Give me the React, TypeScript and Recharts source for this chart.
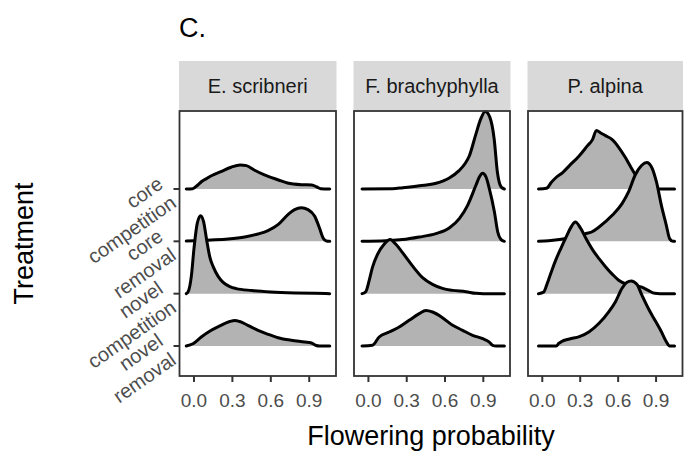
import React from 'react';
import { ComposedChart, Area, XAxis, YAxis } from 'recharts';

type Pt = [number, number];

const FONT = '"Liberation Sans", Arial, Helvetica, sans-serif';

const panelTitle = 'C.';
const xAxisTitle = 'Flowering probability';
const yAxisTitle = 'Treatment';
const speciesNames = ['E. scribneri', 'F. brachyphylla', 'P. alpina'];
const treatmentLabels = [
  ['core', 'competition'],
  ['core', 'removal'],
  ['novel', 'competition'],
  ['novel', 'removal'],
];
const treatmentRows = [4, 3, 2, 1];
const xTicks = [0, 0.3, 0.6, 0.9];

// ---- E. scribneri (scaled density, in ridge-row units) ----
const escCoreCompetition: Pt[] = [
  [-0.06, 0], [-0.01, 0.006], [0.03, 0.076], [0.06, 0.143], [0.1, 0.201], [0.14, 0.258],
  [0.21, 0.331], [0.29, 0.415], [0.36, 0.459], [0.41, 0.446], [0.47, 0.363], [0.55, 0.268],
  [0.66, 0.172], [0.73, 0.115], [0.84, 0.082], [0.92, 0.076], [0.96, 0.038], [0.99, 0.006], [1.06, 0],
];
const escCoreRemoval: Pt[] = [
  [-0.06, 0.004], [0.0, 0.01], [0.135, 0.025], [0.266, 0.044], [0.396, 0.082], [0.5, 0.14],
  [0.578, 0.205], [0.656, 0.319], [0.734, 0.511], [0.786, 0.606], [0.838, 0.641], [0.89, 0.606],
  [0.943, 0.478], [0.98, 0.254], [1.008, 0.063], [1.034, 0.006], [1.06, 0],
];
const escNovelCompetition: Pt[] = [
  [-0.06, 0], [-0.045, 0.038], [-0.02, 0.344], [0.0, 0.86], [0.025, 1.338], [0.052, 1.491],
  [0.075, 1.377], [0.1, 1.013], [0.125, 0.688], [0.15, 0.516], [0.19, 0.325], [0.23, 0.21],
  [0.28, 0.134], [0.33, 0.096], [0.45, 0.061], [0.6, 0.034], [0.79, 0.015], [0.95, 0.006], [1.06, 0],
];
const escNovelRemoval: Pt[] = [
  [-0.06, 0], [-0.008, 0.044], [0.057, 0.172], [0.135, 0.3], [0.21, 0.396], [0.279, 0.468],
  [0.32, 0.488], [0.357, 0.468], [0.42, 0.396], [0.5, 0.3], [0.578, 0.224], [0.656, 0.159],
  [0.76, 0.109], [0.865, 0.076], [0.917, 0.057], [0.955, 0.01], [0.98, 0], [1.06, 0],
];

// ---- F. brachyphylla ----
const fbrCoreCompetition: Pt[] = [
  [-0.05, 0], [0.19, 0.004], [0.27, 0.025], [0.4, 0.063], [0.53, 0.109], [0.63, 0.205],
  [0.71, 0.35], [0.76, 0.497], [0.79, 0.631], [0.84, 1.033], [0.88, 1.338], [0.915, 1.48],
  [0.95, 1.377], [0.985, 0.956], [1.01, 0.325], [1.04, 0.038], [1.065, 0],
];
const fbrCoreRemoval: Pt[] = [
  [-0.05, 0], [0.136, 0.013], [0.267, 0.033], [0.398, 0.082], [0.528, 0.147], [0.633, 0.254],
  [0.712, 0.434], [0.777, 0.688], [0.842, 1.071], [0.869, 1.229], [0.895, 1.3], [0.921, 1.229],
  [0.947, 1.008], [0.987, 0.56], [1.013, 0.178], [1.039, 0.033], [1.065, 0],
];
const fbrNovelCompetition: Pt[] = [
  [-0.05, 0], [-0.021, 0.038], [0.005, 0.243], [0.031, 0.497], [0.071, 0.751], [0.123, 0.943],
  [0.17, 1.033], [0.215, 0.943], [0.267, 0.784], [0.345, 0.53], [0.424, 0.306], [0.502, 0.178],
  [0.58, 0.101], [0.66, 0.063], [0.764, 0.038], [0.842, 0.006], [0.9, 0], [1.065, 0],
];
const fbrNovelRemoval: Pt[] = [
  [-0.05, 0], [0.031, 0.013], [0.084, 0.172], [0.162, 0.268], [0.241, 0.363], [0.319, 0.491],
  [0.398, 0.618], [0.45, 0.679], [0.502, 0.65], [0.58, 0.541], [0.66, 0.396], [0.738, 0.3],
  [0.816, 0.205], [0.895, 0.14], [0.947, 0.076], [0.973, 0.013], [1.0, 0], [1.065, 0],
];

// ---- P. alpina ----
const palCoreCompetition: Pt[] = [
  [-0.03, 0], [0.033, 0.013], [0.072, 0.128], [0.111, 0.224], [0.163, 0.319], [0.215, 0.446],
  [0.293, 0.637], [0.358, 0.828], [0.397, 0.943], [0.428, 1.119], [0.462, 1.071], [0.5, 1.019],
  [0.553, 0.943], [0.604, 0.797], [0.656, 0.606], [0.709, 0.382], [0.76, 0.191], [0.82, 0.076],
  [0.88, 0.01], [0.93, 0], [1.046, 0],
];
const palCoreRemoval: Pt[] = [
  [-0.03, 0], [0.05, 0.01], [0.15, 0.038], [0.25, 0.086], [0.337, 0.143], [0.39, 0.178],
  [0.449, 0.273], [0.553, 0.497], [0.631, 0.721], [0.682, 0.943], [0.734, 1.262], [0.787, 1.453],
  [0.826, 1.505], [0.864, 1.421], [0.903, 1.134], [0.942, 0.688], [0.981, 0.306], [1.007, 0.052],
  [1.033, 0], [1.046, 0],
];
const palNovelCompetition: Pt[] = [
  [-0.03, 0], [0.01, 0.029], [0.033, 0.153], [0.05, 0.268], [0.072, 0.421], [0.111, 0.669],
  [0.15, 0.88], [0.19, 1.09], [0.225, 1.262], [0.262, 1.367], [0.3, 1.262], [0.35, 1.033],
  [0.397, 0.841], [0.449, 0.669], [0.5, 0.516], [0.553, 0.373], [0.604, 0.258], [0.657, 0.191],
  [0.71, 0.163], [0.787, 0.124], [0.838, 0.063], [0.89, 0.006], [0.93, 0], [1.046, 0],
];
const palNovelRemoval: Pt[] = [
  [-0.03, 0], [0.111, 0], [0.13, 0.048], [0.15, 0.082], [0.215, 0.134], [0.293, 0.178],
  [0.371, 0.273], [0.449, 0.434], [0.527, 0.656], [0.579, 0.847], [0.631, 1.103], [0.67, 1.218],
  [0.703, 1.243], [0.748, 1.18], [0.787, 0.975], [0.838, 0.721], [0.89, 0.497], [0.942, 0.273],
  [0.981, 0.082], [1.007, 0], [1.046, 0],
];

const ridgeSets: Pt[][][] = [
  [escCoreCompetition, escCoreRemoval, escNovelCompetition, escNovelRemoval],
  [fbrCoreCompetition, fbrCoreRemoval, fbrNovelCompetition, fbrNovelRemoval],
  [palCoreCompetition, palCoreRemoval, palNovelCompetition, palNovelRemoval],
];

function buildTable(series: Pt[][]) {
  const xs = Array.from(new Set(series.flatMap((s) => s.map((p) => p[0])))).sort((a, b) => a - b);
  return xs.map((x) => {
    const row: Record<string, number | null> = { x };
    series.forEach((s, i) => {
      const p = s.find((q) => q[0] === x);
      row['r' + i] = p ? treatmentRows[i] + p[1] : null;
    });
    return row;
  });
}

// layout
const W = 685;
const H = 451;
const PLOT_TOP = 111;
const PLOT_BOTTOM = 376;
const X_AXIS_H = 40;
const Y_AXIS_W = 80;
const panels = [
  { left: 179.5, right: 336 },
  { left: 354, right: 510 },
  { left: 528, right: 682.5 },
];
const X_DOMAIN: [number, number] = [-0.113, 1.109];
const Y_DOMAIN: [number, number] = [0.427, 5.49];

const YTick = (props: any) => {
  const { x, y, payload } = props;
  const idx = treatmentRows.indexOf(payload.value);
  if (idx < 0) return null;
  const [l1, l2] = treatmentLabels[idx];
  const ax = x - 3;
  const ay = y + 4;
  return (
    <text
      transform={`rotate(-35, ${ax}, ${ay})`}
      x={ax}
      y={ay}
      textAnchor="end"
      fill="#4d4d4d"
      fontSize={20}
      fontFamily={FONT}
    >
      <tspan x={ax} dy={-7.3}>{l1}</tspan>
      <tspan x={ax} dy={23}>{l2}</tspan>
    </text>
  );
};

function Panel({ k }: { k: number }) {
  const p = panels[k];
  const table = buildTable(ridgeSets[k]);
  return (
    <div style={{ position: 'absolute', left: 0, top: 0 }}>
      <ComposedChart
        width={W}
        height={H}
        data={table}
        margin={{
          top: PLOT_TOP,
          bottom: H - PLOT_BOTTOM - X_AXIS_H,
          left: k === 0 ? p.left - Y_AXIS_W : p.left,
          right: W - p.right,
        }}
      >
        <XAxis
          dataKey="x"
          type="number"
          domain={X_DOMAIN}
          ticks={xTicks}
          allowDataOverflow
          height={X_AXIS_H}
          axisLine={false}
          tickLine={{ stroke: '#333333', strokeWidth: 2 }}
          tickSize={6}
          tickMargin={12}
          tickFormatter={(v: number) => v.toFixed(1)}
          tick={{ fill: '#4d4d4d', fontSize: 19, fontFamily: FONT }}
          interval={0}
        />
        <YAxis
          type="number"
          domain={Y_DOMAIN}
          ticks={treatmentRows}
          hide={k !== 0}
          width={Y_AXIS_W}
          axisLine={false}
          tickLine={{ stroke: '#333333', strokeWidth: 2 }}
          tickSize={6}
          tickMargin={2}
          tick={<YTick />}
          interval={0}
        />
        {treatmentRows.map((row, i) => (
          <Area
            key={i}
            dataKey={'r' + i}
            type="monotone"
            baseValue={row}
            connectNulls
            stroke="#000000"
            strokeWidth={3}
            strokeLinejoin="round"
            strokeLinecap="round"
            fill="#b3b3b3"
            fillOpacity={1}
            dot={false}
            activeDot={false}
            isAnimationActive={false}
          />
        ))}
      </ComposedChart>
    </div>
  );
}

export default function App() {
  return (
    <div style={{ position: 'absolute', left: 0, top: 0, width: W, height: H, background: '#ffffff' }}>
      {panels.map((_, k) => (
        <Panel key={k} k={k} />
      ))}
      <svg
        width={W}
        height={H}
        style={{ position: 'absolute', left: 0, top: 0, pointerEvents: 'none' }}
        fontFamily={FONT}
      >
        <text x={179} y={37} fontSize={27} fill="#000">{panelTitle}</text>
        {panels.map((p, k) => (
          <g key={k}>
            <rect x={p.left - 0.5} y={61} width={p.right - p.left + 1} height={49} fill="#d9d9d9" />
            <text
              x={(p.left + p.right) / 2}
              y={93}
              textAnchor="middle"
              fontSize={20}
              fill="#1a1a1a"
            >
              {speciesNames[k]}
            </text>
            <rect
              x={p.left}
              y={PLOT_TOP}
              width={p.right - p.left}
              height={PLOT_BOTTOM - PLOT_TOP}
              fill="none"
              stroke="#333333"
              strokeWidth={1.8}
            />
          </g>
        ))}
        <text x={(panels[0].left + panels[2].right) / 2} y={445} textAnchor="middle" fontSize={27} fill="#000">
          {xAxisTitle}
        </text>
        <text
          transform={`rotate(-90, 33, ${(PLOT_TOP + PLOT_BOTTOM) / 2})`}
          x={33}
          y={(PLOT_TOP + PLOT_BOTTOM) / 2}
          textAnchor="middle"
          fontSize={27}
          fill="#000"
        >
          {yAxisTitle}
        </text>
      </svg>
    </div>
  );
}
